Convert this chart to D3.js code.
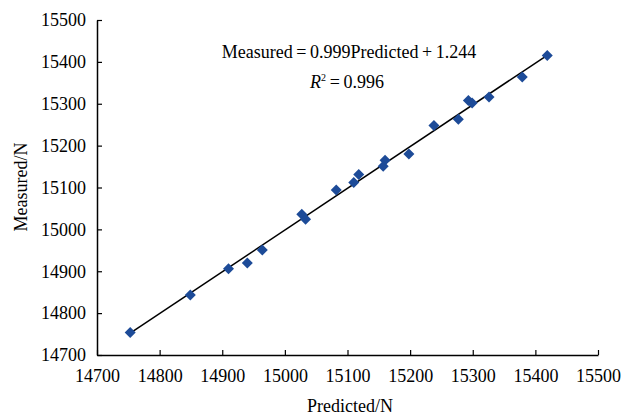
<!DOCTYPE html>
<html>
<head>
<meta charset="utf-8">
<script src="https://cdn.jsdelivr.net/npm/d3@7"></script>
<style>
  body { margin: 0; background: white; }
  text { font-family: "Liberation Serif", "Times New Roman", serif; fill: #000; }
</style>
</head>
<body>
<div id="chart"></div>
<script>
// data
const predicted = [14753, 14849, 14910, 14940, 14964, 15027, 15033, 15082, 15110, 15118,
                   15157, 15160, 15198, 15238, 15277, 15293, 15299, 15326, 15379, 15419];
const measured  = [14754, 14843, 14906, 14920, 14951, 15036, 15024, 15094, 15112, 15131,
                   15151, 15165, 15180, 15248, 15263, 15308, 15302, 15316, 15364, 15415];
const fitX = [14753, 15420];
const fitY = [14752, 15417];
const ticks = [14700, 14800, 14900, 15000, 15100, 15200, 15300, 15400, 15500];

const width = 621, height = 418;
const m = { left: 97, right: 23, top: 20, bottom: 63 };

const svg = d3.select("#chart").append("svg")
  .attr("width", width).attr("height", height);

const x = d3.scaleLinear().domain([14700, 15500]).range([m.left, width - m.right]);
const y = d3.scaleLinear().domain([14700, 15500]).range([height - m.bottom, m.top]);

// axes, ticks pointing inward
const gx = svg.append("g")
  .attr("transform", `translate(0,${y(14700)})`)
  .call(d3.axisBottom(x).tickValues(ticks).tickFormat(d3.format("d"))
    .tickSizeInner(-5).tickSizeOuter(0).tickPadding(14));
const gy = svg.append("g")
  .attr("transform", `translate(${x(14700)},0)`)
  .call(d3.axisLeft(y).tickValues(ticks).tickFormat(d3.format("d"))
    .tickSizeInner(-5).tickSizeOuter(0).tickPadding(11));

[gx, gy].forEach(g => {
  g.attr("font-family", null);
  g.select(".domain").attr("stroke", "#000").attr("stroke-width", 1.5);
  g.selectAll(".tick line").attr("stroke", "#000").attr("stroke-width", 1.2);
  g.selectAll(".tick text").attr("font-size", 18);
});

// fit line
svg.append("path")
  .attr("d", d3.line()(fitX.map((v, i) => [x(v), y(fitY[i])])))
  .attr("stroke", "#000").attr("stroke-width", 1.5).attr("fill", "none");

// diamond markers
const r = 5.5;
svg.append("g").selectAll("path")
  .data(predicted.map((p, i) => [p, measured[i]]))
  .join("path")
  .attr("d", d => {
    const cx = x(d[0]), cy = y(d[1]);
    return `M${cx},${cy - r}L${cx + r},${cy}L${cx},${cy + r}L${cx - r},${cy}Z`;
  })
  .attr("fill", "#1d4b98");

// equation
svg.append("text")
  .attr("x", 349).attr("y", 58)
  .attr("text-anchor", "middle").attr("font-size", 18)
  .text("Measured\u2009=\u20090.999Predicted\u2009+\u20091.244");

const r2 = svg.append("text")
  .attr("x", 347).attr("y", 88)
  .attr("text-anchor", "middle").attr("font-size", 18);
r2.append("tspan").attr("font-style", "italic").text("R");
r2.append("tspan").attr("font-size", 10).attr("dy", -7).text("2");
r2.append("tspan").attr("dy", 7).text("\u2009=\u20090.996");

// axis titles
svg.append("text")
  .attr("x", 350).attr("y", 412)
  .attr("text-anchor", "middle").attr("font-size", 18)
  .text("Predicted/N");
svg.append("text")
  .attr("transform", "translate(27,187) rotate(-90)")
  .attr("text-anchor", "middle").attr("font-size", 18)
  .text("Measured/N");
</script>
</body>
</html>
